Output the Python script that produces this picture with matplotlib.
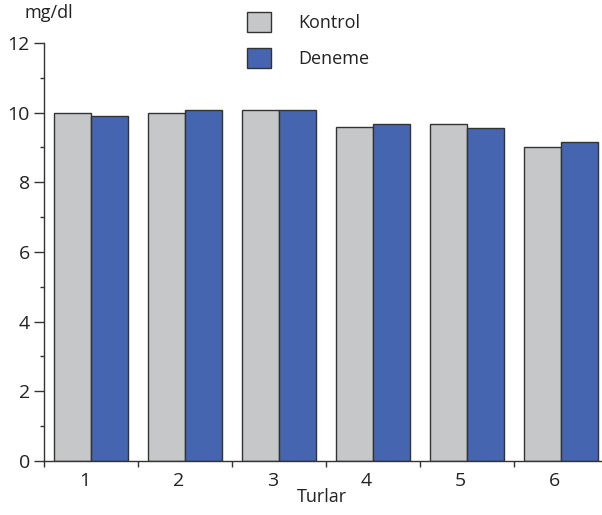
import matplotlib.pyplot as plt
import numpy as np
from matplotlib.patches import Patch
from matplotlib.ticker import MultipleLocator

# values
turlar = ["1", "2", "3", "4", "5", "6"]
kontrol = [10.0, 10.0, 10.08, 9.58, 9.66, 9.0]
deneme = [9.9, 10.08, 10.08, 9.66, 9.57, 9.16]

gray = "#c6c7c9"
blue = "#4565b0"
edge = "#333333"

plt.rcParams["font.family"] = ["Open Sans", "DejaVu Sans"]

fig = plt.figure(figsize=(6.02, 5.15), dpi=100)
ax = fig.add_axes([0.0731, 0.1049, 0.937, 0.8117])

x = np.arange(1, len(turlar) + 1)
w = 0.395
ax.bar(x - w / 2, kontrol, w, color=gray, edgecolor=edge, linewidth=1)
ax.bar(x + w / 2, deneme, w, color=blue, edgecolor=edge, linewidth=1)

ax.set_xlim(0.5, 6.5)
ax.set_ylim(0, 12)
ax.spines["top"].set_visible(False)
ax.spines["right"].set_visible(False)
for s in ["left", "bottom"]:
    ax.spines[s].set_color(edge)
    ax.spines[s].set_linewidth(1)

ax.yaxis.set_major_locator(MultipleLocator(2))
ax.yaxis.set_minor_locator(MultipleLocator(1))
ax.tick_params(axis="y", which="major", length=7.2, width=1, color=edge,
               labelsize=14, pad=3, labelcolor="#222222")
ax.tick_params(axis="y", which="minor", length=3, width=1, color=edge)

# ticks sit between the groups, labels under each group (a bit left of centre)
ax.set_xticks(np.arange(0.5, 6.5, 1))
ax.set_xticklabels([])
ax.set_xticks(x - 0.07, minor=True)
ax.set_xticklabels(turlar, minor=True)
ax.tick_params(axis="x", which="major", length=4, width=1, color=edge, direction="out")
ax.tick_params(axis="x", which="minor", length=0, labelsize=14, pad=8,
               labelcolor="#222222")

fig.text(322 / 602, 1 - 497 / 515, "Turlar", fontsize=13, ha="center", va="center",
         color="#222222")
fig.text(25 / 602, 1 - 13 / 515, "mg/dl", fontsize=13, ha="left", va="center",
         color="#222222")

handles = [Patch(facecolor=gray, edgecolor=edge, label="Kontrol"),
           Patch(facecolor=blue, edgecolor=edge, label="Deneme")]
fig.legend(handles=handles, loc="upper left", bbox_to_anchor=(247 / 602, 1 - 12 / 515),
           frameon=False, fontsize=13, handlelength=1.35, handleheight=1.35,
           labelspacing=0.85, handletextpad=1.5, borderpad=0, borderaxespad=0,
           labelcolor="#222222")

fig.savefig("out.png", dpi=100)
